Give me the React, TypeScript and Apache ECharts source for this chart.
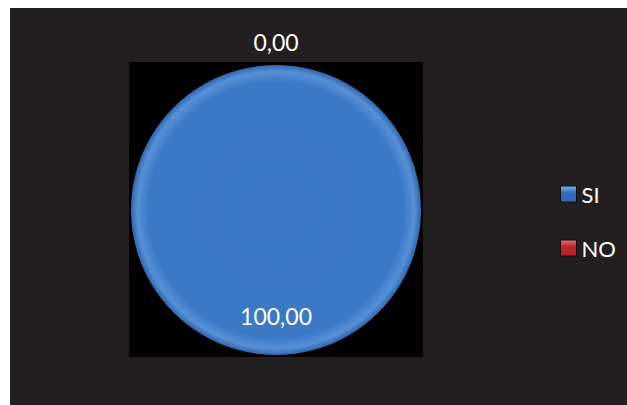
import React, { useEffect, useRef } from "react";
import * as echarts from "echarts";

// Share of answers per option
const categories: string[] = ["SI", "NO"];
const values: number[] = [100, 0];
const sliceColors: string[] = ["#3b77c3", "#c3272c"];

const FONT = "Lato, 'Open Sans', sans-serif";

const fmt = (v: number) => v.toFixed(2).replace(".", ",");

export default function App() {
  const ref = useRef<HTMLDivElement>(null);

  useEffect(() => {
    if (!ref.current) return;
    const chart = echarts.init(ref.current, undefined, { renderer: "svg" });

    const pieFill = new echarts.graphic.RadialGradient(0.5, 0.5, 0.5, [
      { offset: 0, color: "#3a76c2" },
      { offset: 0.88, color: "#3c79c5" },
      { offset: 0.955, color: "#5790d6" },
      { offset: 1, color: "#2f66ad" },
    ]);

    const iconFill = (c: string, light: string) =>
      new echarts.graphic.LinearGradient(0, 0, 0, 1, [
        { offset: 0, color: light },
        { offset: 0.45, color: c },
        { offset: 1, color: c },
      ]);

    const data = categories.map((name, i) => ({
      name,
      value: values[i],
      itemStyle: { color: i === 0 ? pieFill : sliceColors[i] },
      label: {
        show: true,
        position: "center" as const,
        offset: i === 0 ? [0, 106] : [0, -168],
      },
    }));

    chart.setOption({
      animation: false,
      backgroundColor: "#ffffff",
      graphic: [
        {
          type: "rect",
          z: 0,
          shape: { x: 10, y: 8, width: 617, height: 397 },
          style: { fill: "#231f20" },
          silent: true,
        },
        {
          type: "rect",
          z: 0,
          shape: { x: 129, y: 62, width: 294, height: 295 },
          style: { fill: "#010101" },
          silent: true,
        },
      ],
      legend: {
        orient: "vertical",
        left: 555,
        top: 178,
        itemWidth: 16,
        itemHeight: 16,
        itemGap: 32,
        icon: "rect",
        selectedMode: false,
        textStyle: {
          color: "#ffffff",
          fontFamily: FONT,
          fontSize: 22,
          lineHeight: 16,
        },
        data: categories.map((name, i) => ({
          name,
          itemStyle: {
            color: i === 0 ? iconFill("#2f6cb8", "#7fb0ea") : iconFill("#b82328", "#ef6a6e"),
            borderColor: "#0c0c0c",
            borderWidth: 1,
          },
        })),
      },
      series: [
        {
          type: "pie",
          center: [276, 210],
          radius: 145,
          startAngle: 90,
          clockwise: true,
          avoidLabelOverlap: false,
          silent: true,
          emphasis: { disabled: true },
          itemStyle: { borderWidth: 0 },
          label: {
            color: "#ffffff",
            fontFamily: FONT,
            fontSize: 23,
            formatter: (p: any) => fmt(p.value),
          },
          labelLine: { show: false },
          data,
        },
      ],
    });

    return () => chart.dispose();
  }, []);

  return (
    <div
      style={{
        position: "absolute",
        left: 0,
        top: 0,
        width: 627,
        height: 405,
        background: "#ffffff",
      }}
    >
      <div ref={ref} style={{ width: 627, height: 405 }} />
    </div>
  );
}
